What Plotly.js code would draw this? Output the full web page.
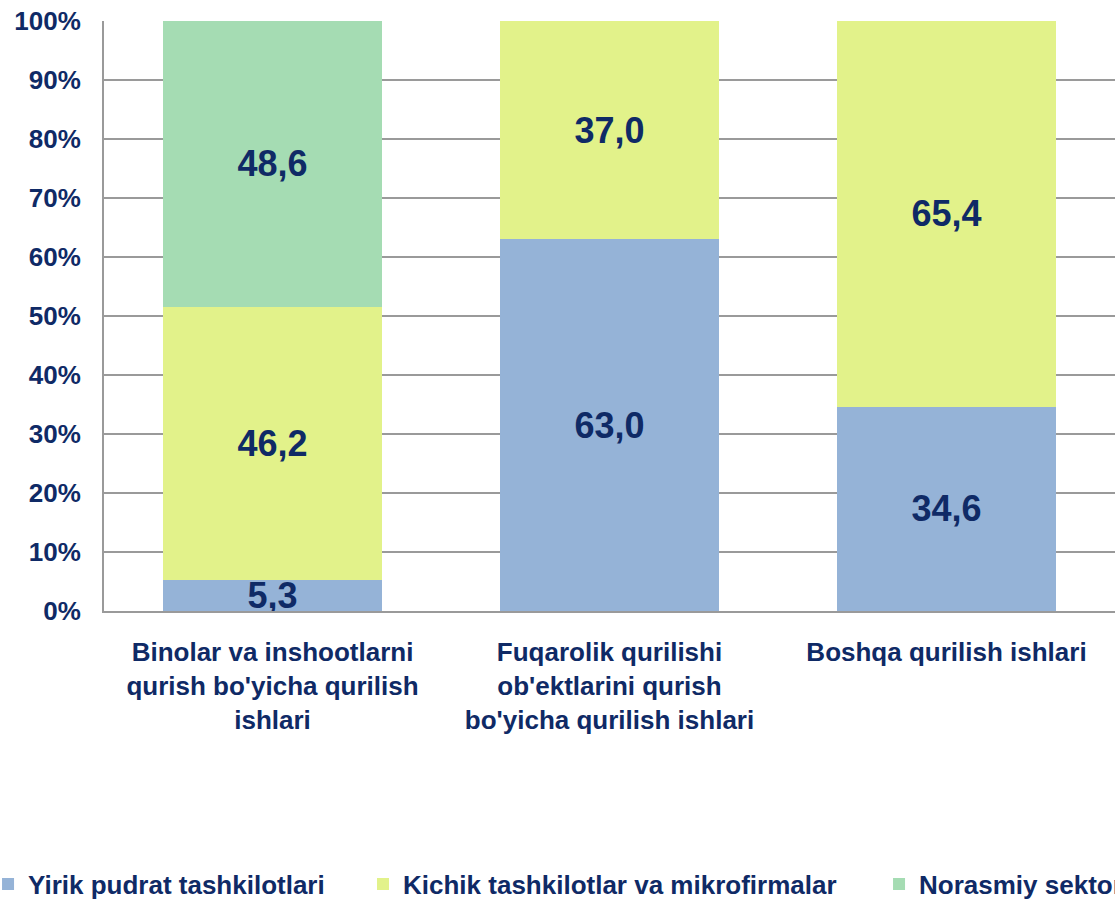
<!DOCTYPE html>
<html>
<head>
<meta charset="utf-8">
<script src="https://cdn.plot.ly/plotly-3.0.1.min.js"></script>
<style>html,body{margin:0;padding:0;background:#fff;}#chart{width:1115px;height:899px;}</style>
</head>
<body>
<div id="chart"></div>
<script>
const categories = [
  "Binolar va inshootlarni<br>qurish bo'yicha qurilish<br>ishlari",
  "Fuqarolik qurilishi<br>ob'ektlarini qurish<br>bo'yicha qurilish ishlari",
  "Boshqa qurilish ishlari"
];
const seriesNames = ["Yirik pudrat tashkilotlari", "Kichik tashkilotlar va mikrofirmalar", "Norasmiy sektor"];
const yirik = [5.3, 63.0, 34.6];
const kichik = [46.2, 37.0, 65.4];
const norasmiy = [48.6, null, null];
const tickVals = [0, 10, 20, 30, 40, 50, 60, 70, 80, 90, 100];
const tickText = ["0%", "10%", "20%", "30%", "40%", "50%", "60%", "70%", "80%", "90%", "100%"];

const FONT = "Liberation Sans, Arial, sans-serif";
const NAVY = "#0F2A66";
const fmt = v => (v === null ? "" : v.toFixed(1).replace(".", ","));

const colors = ["#95B3D7", "#E2F28A", "#A5DCB3"];
const seriesVals = [yirik, kichik, norasmiy];
const legendIds = ["legend", "legend2", "legend3"];

const traces = seriesVals.map((vals, i) => ({
  type: "bar",
  name: seriesNames[i],
  x: categories,
  y: vals,
  text: vals.map(fmt),
  textposition: "inside",
  insidetextanchor: "middle",
  constraintext: "none",
  textfont: {family: FONT, size: 36, color: NAVY, weight: 700},
  marker: {color: colors[i], line: {width: 0}},
  hoverinfo: "skip",
  legend: legendIds[i]
}));

const legendBase = {
  orientation: "h",
  yanchor: "middle",
  xanchor: "left",
  y: -0.463,
  bgcolor: "rgba(0,0,0,0)",
  borderwidth: 0,
  font: {family: FONT, size: 26, color: NAVY, weight: 700}
};

const layout = {
  width: 1115,
  height: 899,
  margin: {l: 104, r: 0, t: 21, b: 288, autoexpand: false},
  paper_bgcolor: "#ffffff",
  plot_bgcolor: "#ffffff",
  barmode: "stack",
  bargap: 0.353,
  font: {family: FONT, size: 26, color: NAVY, weight: 700},
  xaxis: {
    type: "category",
    showline: true,
    linecolor: "#9a9a9a",
    linewidth: 2,
    ticks: "",
    showgrid: false,
    tickfont: {family: FONT, size: 26, color: NAVY, weight: 700},
    ticklabelstandoff: 17
  },
  yaxis: {
    range: [0, 100],
    tickvals: tickVals,
    ticktext: tickText,
    showline: true,
    linecolor: "#9a9a9a",
    linewidth: 2,
    showgrid: true,
    gridcolor: "#9a9a9a",
    gridwidth: 1.5,
    zeroline: false,
    ticks: "",
    ticklabelstandoff: 16,
    tickfont: {family: FONT, size: 26, color: NAVY, weight: 700}
  },
  showlegend: true,
  legend: Object.assign({}, legendBase, {x: -0.1147}),
  legend2: Object.assign({}, legendBase, {x: 0.2562}),
  legend3: Object.assign({}, legendBase, {x: 0.7666})
};

Plotly.newPlot("chart", traces, layout, {displayModeBar: false, staticPlot: true});
</script>
</body>
</html>
